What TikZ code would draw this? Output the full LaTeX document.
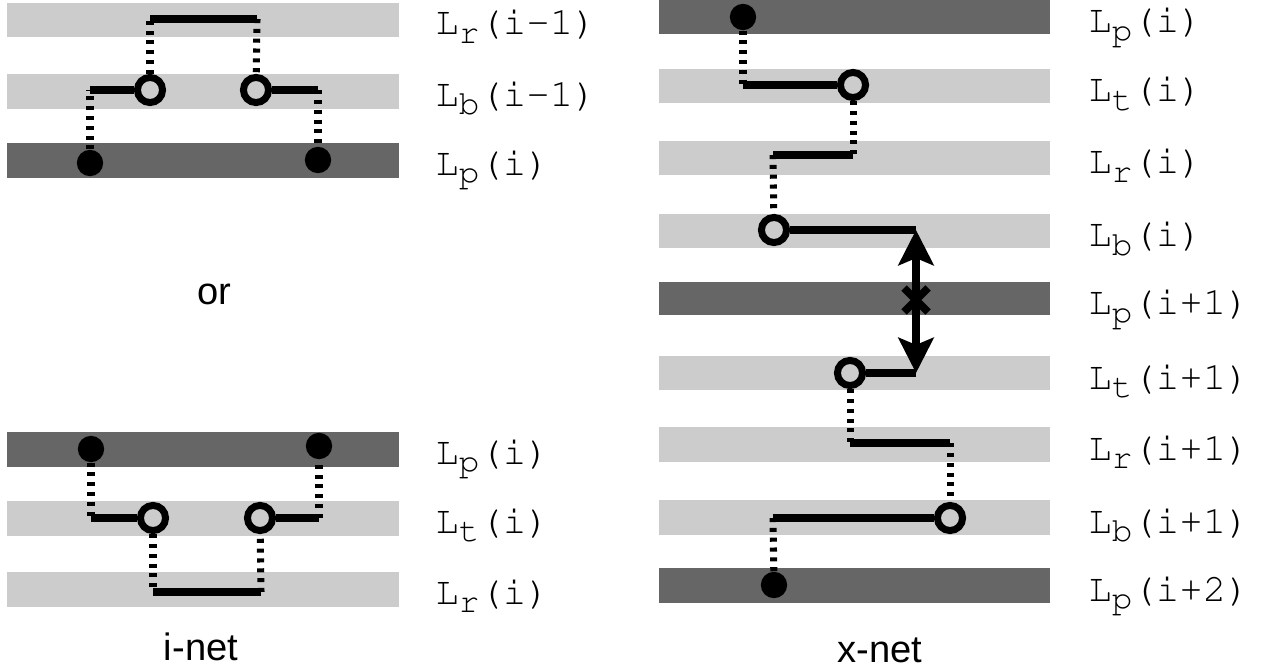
\documentclass[tikz,border=0pt]{standalone}
\usepackage[T1]{fontenc}
\usepackage{fontspec}
\setmainfont{Liberation Sans}
\usetikzlibrary{arrows.meta}
\definecolor{lband}{HTML}{CCCCCC}
\definecolor{dband}{HTML}{666666}
\newcommand\courfont{\fontencoding{T1}\fontfamily{pcr}\fontseries{m}\fontshape{n}\fontsize{22.3}{26}\selectfont}
\newcommand\Lab[2]{L\raisebox{-4.6pt}{\fontsize{19.5}{21}\selectfont #1}(#2)}
\begin{document}
\begin{tikzpicture}[x=0.02cm,y=-0.02cm,
  wire/.style={line width=4pt},
  via/.style={line width=4pt, dash pattern=on 2.3pt off 3.3pt},
  pindot/.style={circle, fill=black, inner sep=0pt, minimum size=15pt},
  portc/.style={circle, draw=black, line width=4pt, fill=lband, inner sep=0pt, minimum size=14.3pt},
  laytxt/.style={anchor=base west, font=\courfont, inner sep=0pt},
  captxt/.style={anchor=base, font=\fontsize{21.7}{26}\selectfont, inner sep=0pt},
  dblarrow/.style={line width=4.4pt, {Stealth[length=20pt,width=20pt,inset=4pt]}-{Stealth[length=20pt,width=20pt,inset=4pt]}},
]
\useasboundingbox (0,0) rectangle (1273,668);
% ---------- bands: left top
\fill[lband] (7,3) rectangle (399,37);
\fill[lband] (7,74) rectangle (399,109);
\fill[dband] (7,143) rectangle (399,178);
% left bottom
\fill[dband] (7,432) rectangle (399,467);
\fill[lband] (7,501) rectangle (399,536);
\fill[lband] (7,572) rectangle (399,607);
% right
\fill[dband] (659,0) rectangle (1050,34);
\fill[lband] (659,69) rectangle (1050,103);
\fill[lband] (659,141) rectangle (1050,175);
\fill[lband] (659,214) rectangle (1050,248);
\fill[dband] (659,282) rectangle (1050,315);
\fill[lband] (659,356) rectangle (1050,390);
\fill[lband] (659,427) rectangle (1050,462);
\fill[lband] (659,500) rectangle (1050,535);
\fill[dband] (659,568) rectangle (1050,603);

% ---------- labels
\node[laytxt] (la1) at (435,35) {\Lab{r}{i-1}};
\node[laytxt] (la2) at (435,106.5) {\Lab{b}{i-1}};
\node[laytxt] (la3) at (435,175.5) {\Lab{p}{i}};
\node[laytxt] (lb1) at (435,464.5) {\Lab{p}{i}};
\node[laytxt] (lb2) at (435,533.5) {\Lab{t}{i}};
\node[laytxt] (lb3) at (435,604.5) {\Lab{r}{i}};
\node[laytxt] (lx1) at (1088,33) {\Lab{p}{i}};
\node[laytxt] (lx2) at (1088,102) {\Lab{t}{i}};
\node[laytxt] (lx3) at (1088,174) {\Lab{r}{i}};
\node[laytxt] (lx4) at (1088,247) {\Lab{b}{i}};
\node[laytxt] (lx5) at (1088,315) {\Lab{p}{i+1}};
\node[laytxt] (lx6) at (1088,389) {\Lab{t}{i+1}};
\node[laytxt] (lx7) at (1088,460.5) {\Lab{r}{i+1}};
\node[laytxt] (lx8) at (1088,533.5) {\Lab{b}{i+1}};
\node[laytxt] (lx9) at (1088,601.5) {\Lab{p}{i+2}};

\node[captxt] (or) at (214,305) {or};
\node[captxt] (inet) at (201,660) {i-net};
\node[captxt] (xnet) at (880,662) {x-net};

% ---------- left top net
\node[pindot] (A1) at (90,163) {};
\node[pindot] (A2) at (318,160) {};
\node[portc] (A3) at (150,90) {};
\node[portc] (A4) at (256,90) {};
\coordinate (ca1) at (90,90);
\coordinate (ca2) at (318,90);
\coordinate (ca3) at (150,19);
\coordinate (ca4) at (257,19);
\draw[via] (A1) -- (ca1);
\draw[wire] (ca1) -- (A3);
\draw[via] (A3) -- (ca3);
\draw[wire] (ca3) -- (ca4);
\draw[via] (ca4) -- (A4);
\draw[wire] (A4) -- (ca2);
\draw[via] (ca2) -- (A2);

% ---------- left bottom net (i-net)
\node[pindot] (B1) at (91,449) {};
\node[pindot] (B2) at (319,446) {};
\node[portc] (B3) at (153,518) {};
\node[portc] (B4) at (260,518) {};
\coordinate (cb1) at (91,518);
\coordinate (cb2) at (319,518);
\coordinate (cb3) at (153,592);
\coordinate (cb4) at (261,592);
\draw[via] (B1) -- (cb1);
\draw[wire] (cb1) -- (B3);
\draw[via] (B3) -- (cb3);
\draw[wire] (cb3) -- (cb4);
\draw[via] (cb4) -- (B4);
\draw[wire] (B4) -- (cb2);
\draw[via] (cb2) -- (B2);

% ---------- right net (x-net)
\node[pindot] (X1) at (743,17) {};
\node[portc] (X2) at (853,85) {};
\node[portc] (X3) at (774,230) {};
\node[portc] (X4) at (850,373) {};
\node[portc] (X5) at (950,518) {};
\node[pindot] (X6) at (774,585) {};
\coordinate (x1) at (743,85);
\coordinate (x2) at (853,155);
\coordinate (x3) at (773,155);
\coordinate (x4) at (916,230);
\coordinate (x5) at (916,373);
\coordinate (x6) at (850,443);
\coordinate (x7) at (950,443);
\coordinate (x8) at (773,518);
\coordinate (xm) at (916,300);
\draw[via] (X1) -- (x1);
\draw[wire] (x1) -- (X2);
\draw[via] (X2) -- (x2);
\draw[wire] (x2) -- (x3);
\draw[via] (x3) -- (X3);
\draw[wire] (X3) -- (x4);
\draw[dblarrow] (x4) -- (x5);
\draw[wire] (x5) -- (X4);
\draw[via] (X4) -- (x6);
\draw[wire] (x6) -- (x7);
\draw[via] (x7) -- (X5);
\draw[wire] (X5) -- (x8);
\draw[via] (x8) -- (X6);
\draw[line width=4.4pt] (xm) +(-12,-12) -- +(12,12) (xm) +(-12,12) -- +(12,-12);
\end{tikzpicture}
\end{document}
